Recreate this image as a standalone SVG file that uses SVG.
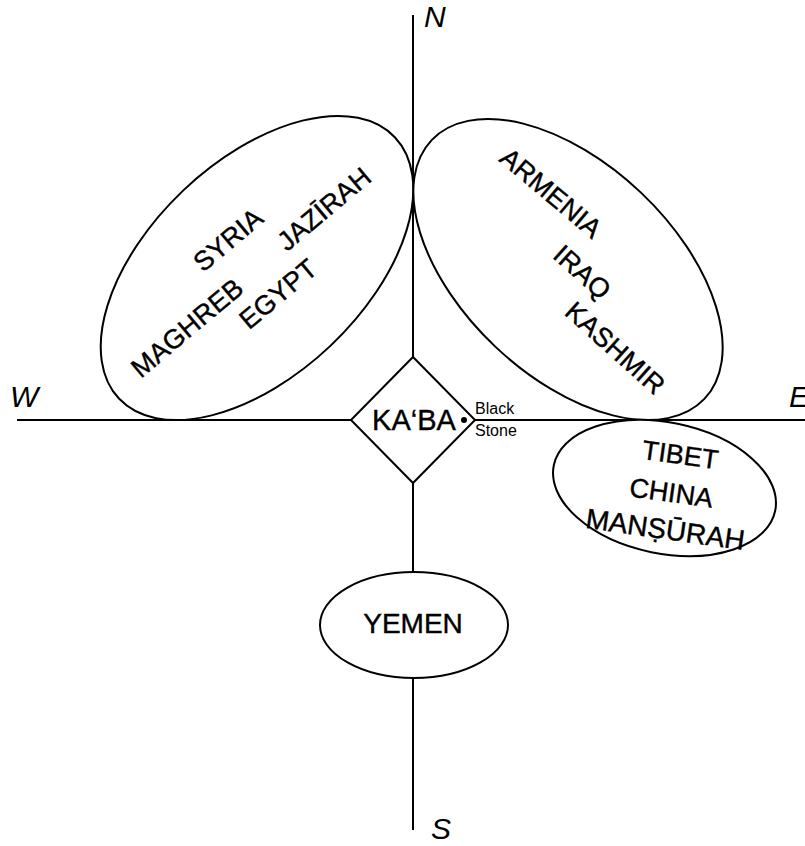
<svg xmlns="http://www.w3.org/2000/svg" width="805" height="846" viewBox="0 0 805 846">
<style>
.shape{fill:#fff;stroke:#000;stroke-width:2}
.axis{stroke:#000;stroke-width:2;fill:none}
.lbl{font-family:"Liberation Sans",Arial,sans-serif;font-size:27px;fill:#000;stroke:#000;stroke-width:0.4}
.cmp{font-family:"Liberation Sans",Arial,sans-serif;font-style:italic;font-size:30px;fill:#000}
.small{font-family:"Liberation Sans",Arial,sans-serif;font-size:16px;fill:#000}
</style>
<rect width="805" height="846" fill="#fff"/>
<g id="connectors">
<line class="axis" x1="413" y1="15" x2="413" y2="830"/>
<line class="axis" x1="17" y1="420" x2="805" y2="420"/>
</g>
<g id="compass">
<text class="cmp" x="424" y="27">N</text>
<text class="cmp" x="10" y="407">W</text>
<text class="cmp" x="789" y="407">E</text>
<text class="cmp" x="431" y="839">S</text>
</g>
<g id="west-region">
<ellipse class="shape" cx="257" cy="268" rx="190" ry="107" transform="rotate(-43.5 257 268)"/>
<text class="lbl" text-anchor="middle" x="234" y="247" transform="rotate(-40 234 247)">SYRIA</text>
<text class="lbl" text-anchor="middle" x="330" y="216" transform="rotate(-40 330 216)">JAZĪRAH</text>
<text class="lbl" text-anchor="middle" x="193" y="335" transform="rotate(-40 193 335)">MAGHREB</text>
<text class="lbl" text-anchor="middle" x="284" y="301" transform="rotate(-40 284 301)">EGYPT</text>
</g>
<g id="east-region">
<ellipse class="shape" cx="568" cy="269.5" rx="188" ry="106" transform="rotate(43.5 568 269.5)"/>
<text class="lbl" text-anchor="middle" x="545" y="200" transform="rotate(40 545 200)">ARMENIA</text>
<text class="lbl" text-anchor="middle" x="576" y="279" transform="rotate(42 576 279)">IRAQ</text>
<text class="lbl" text-anchor="middle" x="609" y="355" transform="rotate(42 609 355)">KASHMIR</text>
</g>
<g id="tibet-region">
<ellipse class="shape" cx="664.5" cy="488" rx="113" ry="65.5" transform="rotate(11.6 664.5 488)"/>
<text class="lbl" text-anchor="middle" x="679" y="464" transform="rotate(8 679 464)">TIBET</text>
<text class="lbl" text-anchor="middle" x="670" y="502" transform="rotate(8 670 502)">CHINA</text>
<text class="lbl" text-anchor="middle" x="664" y="539" transform="rotate(8 664 539)" style="font-size:28px">MANṢŪRAH</text>
</g>
<g id="yemen">
<ellipse class="shape" cx="414" cy="625" rx="94" ry="53"/>
<text class="lbl" text-anchor="middle" x="413" y="633" style="font-size:28px">YEMEN</text>
</g>
<g id="kaba">
<polygon class="shape" points="413,357 475,420 413,483 351,420"/>
<text class="lbl" text-anchor="middle" x="414" y="430" style="font-size:29px">KA‘BA</text>
<circle cx="464" cy="420" r="3" fill="#000"/>
<text class="small" x="475" y="414">Black</text>
<text class="small" x="475" y="436">Stone</text>
</g>
</svg>
